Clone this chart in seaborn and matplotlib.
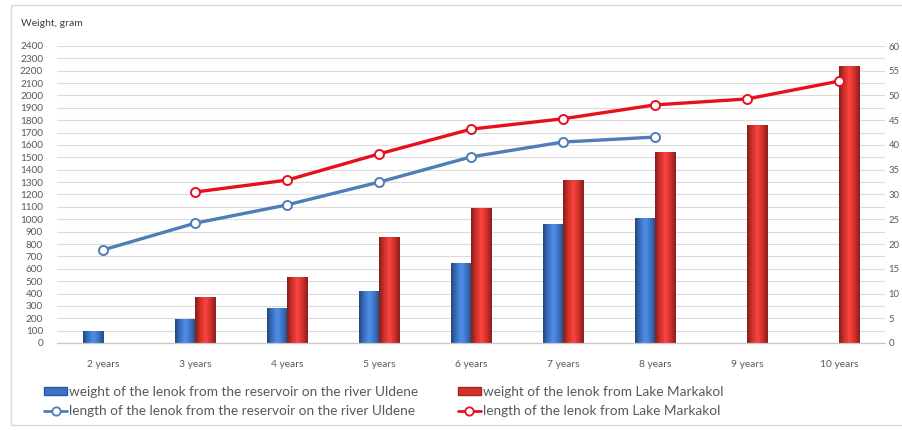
import numpy as np
import pandas as pd
import matplotlib
matplotlib.use("Agg")
import matplotlib.pyplot as plt
from matplotlib.patches import Rectangle
from matplotlib.lines import Line2D
from matplotlib.colors import LinearSegmentedColormap
import seaborn as sns

# ---- data -------------------------------------------------------------
ages = ["2 years", "3 years", "4 years", "5 years", "6 years",
        "7 years", "8 years", "9 years", "10 years"]
weight_uldene = [100, 190, 280, 420, 650, 960, 1010, np.nan, np.nan]
weight_markakol = [np.nan, 370, 530, 860, 1090, 1320, 1540, 1760, 2240]
length_uldene = [18.8, 24.2, 27.9, 32.5, 37.6, 40.6, 41.6, np.nan, np.nan]
length_markakol = [np.nan, 30.5, 32.9, 38.2, 43.2, 45.3, 48.1, 49.3, 52.9]

lbl_w_uld = "weight of the lenok from the reservoir on the river Uldene"
lbl_w_mar = "weight of the lenok from Lake Markakol"
lbl_l_uld = "length of the lenok from the reservoir on the river Uldene"
lbl_l_mar = "length of the lenok from Lake Markakol"

weights = pd.DataFrame({
    "age": ages * 2,
    "weight": weight_uldene + weight_markakol,
    "series": [lbl_w_uld] * len(ages) + [lbl_w_mar] * len(ages),
})
lengths_uld = pd.DataFrame({"x": np.arange(len(ages)), "length": length_uldene}).dropna()
lengths_mar = pd.DataFrame({"x": np.arange(len(ages)), "length": length_markakol}).dropna()

# ---- style ------------------------------------------------------------
sns.set_theme(style="white")
plt.rcParams["font.family"] = ["Lato", "DejaVu Sans"]
txt_col = "#595959"

BAR_BLUE = "#3B73C4"
BAR_RED = "#D2302B"
LINE_BLUE = "#4F7DB8"
LINE_RED = "#E8101E"

W, H = 903, 430
fig = plt.figure(figsize=(W / 100, H / 100), dpi=100)
fig.patch.set_facecolor("white")

x0, x1, y_top, y_bot = 57, 885, 46, 343
ax = fig.add_axes([x0 / W, 1 - y_bot / H, (x1 - x0) / W, (y_bot - y_top) / H])

# ---- bars (weight) ----------------------------------------------------
sns.barplot(data=weights, x="age", y="weight", hue="series",
            palette=[BAR_BLUE, BAR_RED], width=0.44, dodge=True,
            order=ages, hue_order=[lbl_w_uld, lbl_w_mar],
            legend=False, ax=ax, saturation=1, linewidth=0)

# cylindrical shading on each bar
def shade(base):
    c = np.array(matplotlib.colors.to_rgb(base))
    dark = c * 0.62
    light = np.clip(c * 1.12 + 0.06, 0, 1)
    return LinearSegmentedColormap.from_list("s", [dark, c, light, c, dark * 1.05])

grad = np.linspace(0, 1, 64).reshape(1, -1)
for p in list(ax.patches):
    h = p.get_height()
    if not np.isfinite(h) or h <= 0:
        continue
    col = p.get_facecolor()
    cmap = shade(col[:3])
    xl, w = p.get_x(), p.get_width()
    im = ax.imshow(grad, cmap=cmap, aspect="auto",
                   extent=[xl, xl + w, 0, h], zorder=p.get_zorder() + 0.1,
                   interpolation="bicubic")
    im.set_clip_path(p)

ax.set_xlim(-0.5, len(ages) - 0.5)
ax.set_ylim(0, 2400)
ax.set_yticks(np.arange(0, 2401, 100))
ax.yaxis.grid(True, color="#DCDCDC", linewidth=0.8)
ax.set_axisbelow(True)
for s in ["top", "right", "left"]:
    ax.spines[s].set_visible(False)
ax.spines["bottom"].set_color("#C8C8C8")
ax.spines["bottom"].set_linewidth(0.9)
ax.set_xlabel("")
ax.set_ylabel("")
ax.tick_params(axis="y", length=0, pad=10, labelsize=7.2, labelcolor=txt_col)
ax.tick_params(axis="x", length=0, pad=12, labelsize=7.4, labelcolor=txt_col)

# ---- lines (length) ---------------------------------------------------
ax2 = ax.twinx()
for df, col in [(lengths_uld, LINE_BLUE), (lengths_mar, LINE_RED)]:
    sns.lineplot(data=df, x="x", y="length", color=col, linewidth=2.4,
                 marker="o", markersize=6.5, markerfacecolor="white",
                 markeredgecolor=col, markeredgewidth=1.4, ax=ax2)
ax2.set_xlim(-0.5, len(ages) - 0.5)
ax2.set_ylim(0, 60)
ax2.set_yticks(np.arange(0, 61, 5))
for s in ["top", "right", "left", "bottom"]:
    ax2.spines[s].set_visible(False)
ax2.set_ylabel("")
ax2.set_xlabel("")
ax2.tick_params(axis="y", length=0, pad=2.5, labelsize=6.8, labelcolor=txt_col)

# ---- title, legend, frame --------------------------------------------
fig.text(21 / W, 1 - 23 / H, "Weight, gram", fontsize=7.5, color="#404040",
         va="center", ha="left")

handles = [
    Rectangle((0, 0), 1, 1, facecolor=BAR_BLUE, edgecolor="#2A5A9E"),
    Line2D([], [], color=LINE_BLUE, linewidth=2, marker="o", markersize=6,
           markerfacecolor="white", markeredgecolor=LINE_BLUE, markeredgewidth=1.3),
    Rectangle((0, 0), 1, 1, facecolor=BAR_RED, edgecolor="#A52420"),
    Line2D([], [], color=LINE_RED, linewidth=2, marker="o", markersize=6,
           markerfacecolor="white", markeredgecolor=LINE_RED, markeredgewidth=1.3),
]
labels = [lbl_w_uld, lbl_l_uld, lbl_w_mar, lbl_l_mar]
fig.legend(handles, labels, loc="upper left", bbox_to_anchor=(44 / W, 1 - 386 / H),
           ncol=2, frameon=False, fontsize=9.8, handlelength=1.7, handleheight=0.5,
           handletextpad=0.15, columnspacing=2.9, labelspacing=0.55,
           labelcolor=txt_col, borderpad=0, borderaxespad=0)

fig.add_artist(Rectangle((11 / W, 1 - 425 / H), (905 - 11) / W, (425 - 5) / H,
                         transform=fig.transFigure, fill=False,
                         edgecolor="#D9D9D9", linewidth=1.0))

fig.savefig("out.png", dpi=100, facecolor="white")
